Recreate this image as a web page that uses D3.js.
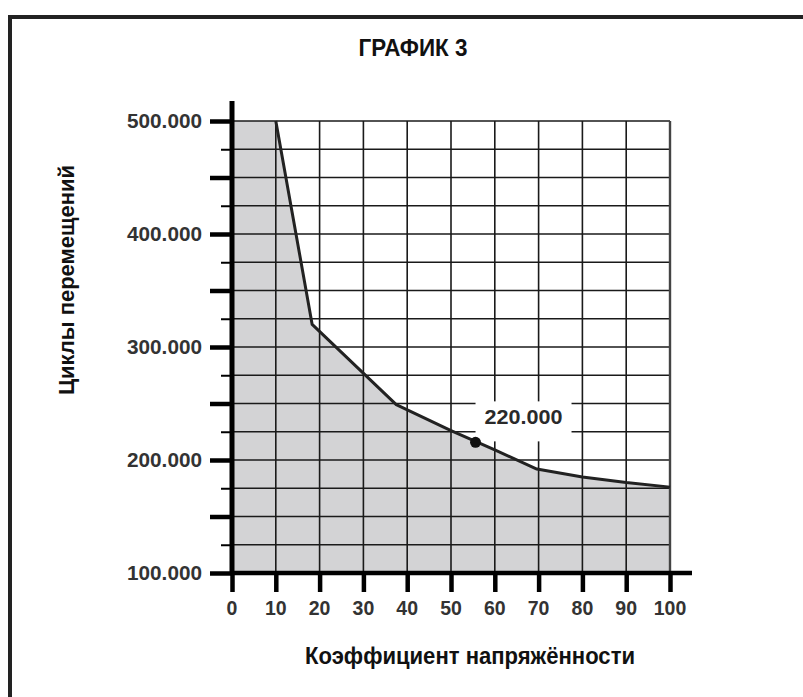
<!DOCTYPE html>
<html>
<head>
<meta charset="utf-8">
<script src="https://cdn.jsdelivr.net/npm/d3@7"></script>
<style>
  html, body { margin: 0; background: #fff; overflow: hidden; }
  svg { display: block; font-family: "Liberation Sans", Arial, sans-serif; }
</style>
</head>
<body>
<div id="chart"></div>
<script>
// Data
const stress = [10, 18.3, 37.5, 50, 60, 69.6, 80, 90, 100];
const cycles = [500000, 320000, 249000, 226000, 209000, 192000, 185000, 180000, 176000];
const xTicks = [0, 10, 20, 30, 40, 50, 60, 70, 80, 90, 100];
const yLabelTicks = [100000, 200000, 300000, 400000, 500000];
const marker = { x: 55.6, y: 215600, label: "220.000" };

const W = 803, H = 697;
const margin = { top: 121, left: 232, right: 133, bottom: 124 };
const width = W - margin.left - margin.right,
      height = H - margin.top - margin.bottom;

const svg = d3.select("#chart")
  .append("svg")
  .attr("width", W)
  .attr("height", H)
  .style("overflow", "hidden");

// outer frame (runs off the page right and bottom)
svg.append("path")
  .attr("d", `M10,${H + 10} L10,17 L${W + 10},17`)
  .attr("fill", "none")
  .attr("stroke", "#222")
  .attr("stroke-width", 4);

svg.append("text")
  .attr("x", 413).attr("y", 56)
  .attr("text-anchor", "middle")
  .attr("font-size", 24)
  .attr("font-weight", "bold")
  .attr("fill", "#111")
  .attr("textLength", 109)
  .attr("lengthAdjust", "spacingAndGlyphs")
  .text("ГРАФИК 3");

const g = svg.append("g")
  .attr("transform", `translate(${margin.left},${margin.top})`);

const x = d3.scaleLinear().domain([0, 100]).range([0, width]);
const y = d3.scaleLinear().domain([100000, 500000]).range([height, 0]);

// shaded area under the curve
const areaData = [[0, 500000]].concat(stress.map((d, i) => [d, cycles[i]]));
g.append("path")
  .datum(areaData)
  .attr("fill", "#d3d3d5")
  .attr("d", d3.area()
    .x(d => x(d[0]))
    .y0(y(100000))
    .y1(d => y(d[1])));

// grid
const gridY = d3.range(100000, 500001, 25000);
g.selectAll(".hgrid")
  .data(gridY)
  .enter()
  .append("line")
  .attr("x1", 0).attr("x2", width)
  .attr("y1", d => y(d)).attr("y2", d => y(d))
  .attr("stroke", "#1a1a1a")
  .attr("stroke-width", 1.6);

g.selectAll(".vgrid")
  .data(xTicks)
  .enter()
  .append("line")
  .attr("x1", d => x(d)).attr("x2", d => x(d))
  .attr("y1", 0).attr("y2", height)
  .attr("stroke", d => d === 100 ? "#444" : "#1a1a1a")
  .attr("stroke-width", d => d === 100 ? 2.4 : 1.6);

// label box for the marker
const lx = x(marker.x) + 48, ly = y(marker.y) - 18;
g.append("rect")
  .attr("x", x(marker.x)).attr("y", y(marker.y) - 41)
  .attr("width", 96).attr("height", 40)
  .attr("fill", "#fff");

// curve
g.append("path")
  .datum(stress.map((d, i) => [d, cycles[i]]))
  .attr("fill", "none")
  .attr("stroke", "#222")
  .attr("stroke-width", 3)
  .attr("stroke-linejoin", "round")
  .attr("d", d3.line().x(d => x(d[0])).y(d => y(d[1])));

g.append("circle")
  .attr("cx", x(marker.x)).attr("cy", y(marker.y))
  .attr("r", 5.5)
  .attr("fill", "#111");

g.append("text")
  .attr("x", lx).attr("y", ly)
  .attr("text-anchor", "middle")
  .attr("font-size", 20)
  .attr("font-weight", "bold")
  .attr("fill", "#2a2a2a")
  .attr("textLength", 78)
  .attr("lengthAdjust", "spacingAndGlyphs")
  .text(marker.label);

// y axis
const yAxis = d3.axisLeft(y)
  .tickValues(d3.range(100000, 500001, 50000))
  .tickSize(22)
  .tickFormat("");
g.append("g")
  .attr("id", "y-axis")
  .call(yAxis)
  .call(a => a.select(".domain").remove())
  .call(a => a.selectAll(".tick line").attr("stroke", "#000").attr("stroke-width", 4.5));

const yMinor = d3.axisLeft(y)
  .tickValues(d3.range(125000, 500000, 50000))
  .tickSize(11)
  .tickFormat("");
g.append("g")
  .call(yMinor)
  .call(a => a.select(".domain").remove())
  .call(a => a.selectAll(".tick line").attr("stroke", "#000").attr("stroke-width", 2));

g.selectAll(".ylab")
  .data(yLabelTicks)
  .enter()
  .append("text")
  .attr("x", -30)
  .attr("y", d => y(d))
  .attr("dy", "0.36em")
  .attr("text-anchor", "end")
  .attr("font-size", 20)
  .attr("font-weight", "bold")
  .attr("fill", "#333")
  .attr("textLength", 75)
  .attr("lengthAdjust", "spacingAndGlyphs")
  .text(d => d3.format(",")(d).replace(",", "."));

g.append("line")
  .attr("x1", 0).attr("x2", 0)
  .attr("y1", -20).attr("y2", height + 2)
  .attr("stroke", "#000").attr("stroke-width", 5);

// x axis
const xAxis = d3.axisBottom(x)
  .tickValues(xTicks)
  .tickSize(19)
  .tickFormat("");
g.append("g")
  .attr("id", "x-axis")
  .attr("transform", `translate(0,${height})`)
  .call(xAxis)
  .call(a => a.select(".domain").remove())
  .call(a => a.selectAll(".tick line").attr("stroke", "#000").attr("stroke-width", 4.5));

g.selectAll(".xlab")
  .data(xTicks)
  .enter()
  .append("text")
  .attr("x", d => x(d))
  .attr("y", height + 42)
  .attr("text-anchor", "middle")
  .attr("font-size", 19.5)
  .attr("font-weight", "bold")
  .attr("fill", "#333")
  .text(d => d);

g.append("line")
  .attr("x1", -2).attr("x2", width + 22)
  .attr("y1", height).attr("y2", height)
  .attr("stroke", "#000").attr("stroke-width", 4.5);

// axis titles
svg.append("text")
  .attr("x", 470).attr("y", 664)
  .attr("text-anchor", "middle")
  .attr("font-size", 24)
  .attr("font-weight", "bold")
  .attr("fill", "#111")
  .attr("textLength", 330)
  .attr("lengthAdjust", "spacingAndGlyphs")
  .text("Коэффициент напряжённости");

svg.append("text")
  .attr("transform", "translate(74,280) rotate(-90)")
  .attr("text-anchor", "middle")
  .attr("font-size", 22)
  .attr("font-weight", "bold")
  .attr("fill", "#111")
  .attr("textLength", 230)
  .attr("lengthAdjust", "spacingAndGlyphs")
  .text("Циклы перемещений");
</script>
</body>
</html>
